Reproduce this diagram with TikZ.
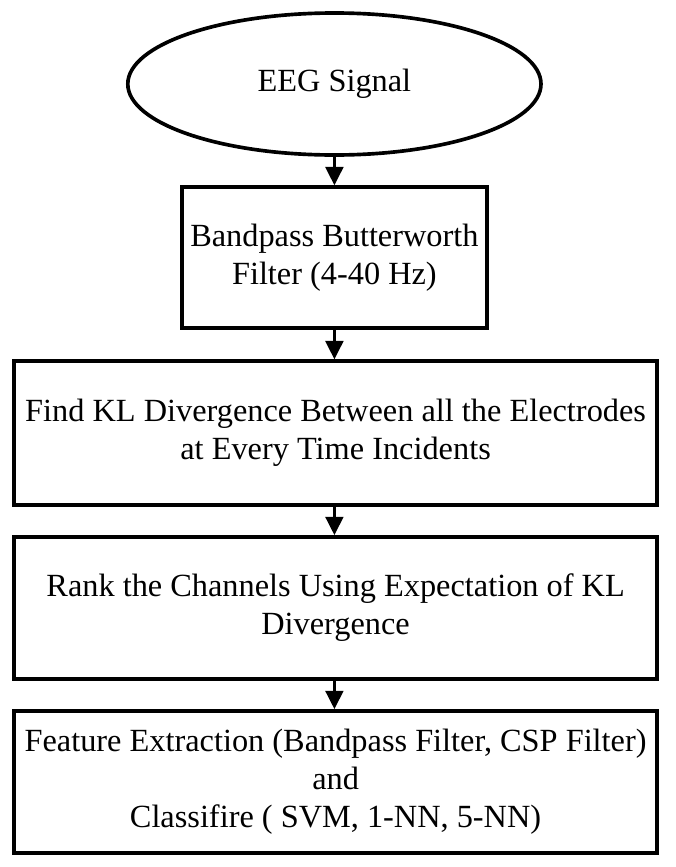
\documentclass[tikz,border=0pt]{standalone}
\usepackage{fontspec}
\setmainfont{Liberation Serif}
\usetikzlibrary{shapes.geometric, arrows.meta}

\tikzset{
  stage/.style={draw, line width=2.6pt, align=center, inner sep=0pt,
    font=\fontsize{23}{27}\selectfont},
  flow/.style={line width=2.4pt, -{Triangle[width=0.44cm, length=0.46cm]}}
}

\begin{document}
\begin{tikzpicture}
  \useasboundingbox (0, 0) rectangle (16.9, -21.675);

  % input
  \node[stage, ellipse, minimum width=10.33cm, minimum height=3.55cm] (eeg)
    at (8.36, -2.1) {EEG Signal};

  % processing stages
  \node[stage, minimum width=7.62cm, minimum height=3.52cm] (bpf)
    at (8.36, -6.44) {Bandpass Butterworth\\Filter (4-40 Hz)};
  \node[stage, minimum width=16.07cm, minimum height=3.6cm] (kld)
    at (8.39, -10.83) {Find KL Divergence Between all the Electrodes\\at Every Time Incidents};
  \node[stage, minimum width=16.07cm, minimum height=3.55cm] (rank)
    at (8.39, -15.2) {Rank the Channels Using Expectation of KL\\Divergence};
  \node[stage, minimum width=16.07cm, minimum height=3.55cm] (clf)
    at (8.39, -19.55) {Feature Extraction (Bandpass Filter, CSP Filter)\\and\\Classifire ( SVM, 1-NN, 5-NN)};

  \draw[flow] (eeg) -- (bpf);
  \draw[flow] (bpf) -- (bpf |- kld.north);
  \draw[flow] (kld.south -| bpf) -- (bpf |- rank.north);
  \draw[flow] (rank.south -| bpf) -- (bpf |- clf.north);
\end{tikzpicture}
\end{document}
